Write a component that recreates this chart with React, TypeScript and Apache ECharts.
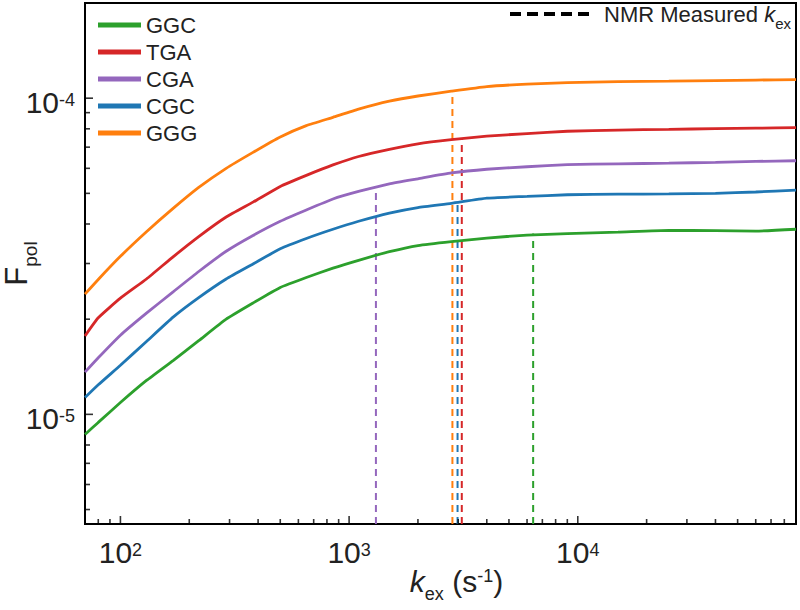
import React, { useEffect, useRef } from 'react';
import * as echarts from 'echarts';

const FONT = '"Liberation Sans", Arial, Helvetica, sans-serif';
const TXT = '#222';

// exchange rates (s^-1) at which the curves were read
const kex = [70, 80, 100, 130, 170, 220, 290, 380, 500, 650, 850, 1100, 1500, 2000, 2800, 4000, 6000, 9000, 15000, 25000, 40000, 60000, 90000];

const ggc = [8.64e-6, 9.43e-6, 1.09e-5, 1.28e-5, 1.48e-5, 1.71e-5, 2.00e-5, 2.25e-5, 2.52e-5, 2.71e-5, 2.90e-5, 3.07e-5, 3.27e-5, 3.42e-5, 3.52e-5, 3.61e-5, 3.69e-5, 3.73e-5, 3.77e-5, 3.82e-5, 3.81e-5, 3.80e-5, 3.85e-5];
const tga = [1.77e-5, 2.02e-5, 2.33e-5, 2.68e-5, 3.15e-5, 3.65e-5, 4.21e-5, 4.69e-5, 5.26e-5, 5.70e-5, 6.15e-5, 6.54e-5, 6.89e-5, 7.17e-5, 7.39e-5, 7.58e-5, 7.73e-5, 7.86e-5, 7.93e-5, 7.97e-5, 8.01e-5, 8.04e-5, 8.07e-5];
const cga = [1.36e-5, 1.51e-5, 1.78e-5, 2.09e-5, 2.44e-5, 2.83e-5, 3.28e-5, 3.68e-5, 4.08e-5, 4.43e-5, 4.80e-5, 5.07e-5, 5.36e-5, 5.56e-5, 5.80e-5, 5.96e-5, 6.07e-5, 6.16e-5, 6.20e-5, 6.23e-5, 6.27e-5, 6.31e-5, 6.34e-5];
const cgc = [1.13e-5, 1.24e-5, 1.43e-5, 1.70e-5, 2.03e-5, 2.34e-5, 2.68e-5, 2.99e-5, 3.34e-5, 3.60e-5, 3.85e-5, 4.08e-5, 4.33e-5, 4.51e-5, 4.65e-5, 4.83e-5, 4.89e-5, 4.95e-5, 4.97e-5, 4.98e-5, 5.00e-5, 5.05e-5, 5.12e-5];
const ggg = [2.40e-5, 2.67e-5, 3.16e-5, 3.78e-5, 4.48e-5, 5.22e-5, 6.00e-5, 6.74e-5, 7.54e-5, 8.19e-5, 8.70e-5, 9.23e-5, 9.78e-5, 1.016e-4, 1.052e-4, 1.088e-4, 1.108e-4, 1.12e-4, 1.128e-4, 1.132e-4, 1.137e-4, 1.141e-4, 1.145e-4];

const seriesNames = ['GGC', 'TGA', 'CGA', 'CGC', 'GGG'];
const seriesValues = [ggc, tga, cga, cgc, ggg];
const seriesColors = ['#2ca02c', '#d62728', '#9467bd', '#1f77b4', '#ff7f0e'];

// NMR measured kex and the F_pol where the dashed marker meets each curve
const nmrKex = [6380, 3110, 1310, 2980, 2830];
const nmrFpol = [3.73e-5, 7.45e-5, 5.27e-5, 4.67e-5, 1.05e-4];
const NMR_LABEL = 'NMR Measured kex';

const X_MIN = 70;
const X_MAX = 90000;
const Y_MIN = 4.5e-6;
const Y_MAX = 2e-4;

const xMajorTicks = [100, 1000, 10000];
const yMajorTicks = [1e-5, 1e-4];
const xMinorTicks = [80, 90, 200, 300, 400, 500, 600, 700, 800, 900, 2000, 3000, 4000, 5000, 6000, 7000, 8000, 9000, 20000, 30000, 40000, 50000, 60000, 70000, 80000];
const yMinorTicks = [5e-6, 6e-6, 7e-6, 8e-6, 2e-5, 3e-5, 4e-5, 5e-5, 6e-5, 7e-5, 8e-5, 9e-5];

const powLabel = (v: number) => {
  const e = Math.log10(v);
  const r = Math.round(e);
  if (Math.abs(e - r) > 1e-6) return '';
  return `{b|10}{s|${r}}`;
};

const tickRich = {
  b: { fontSize: 30, fontFamily: FONT, color: TXT, lineHeight: 32, padding: [9, 0, 0, 0] },
  s: { fontSize: 18, fontFamily: FONT, color: TXT, lineHeight: 18, verticalAlign: 'top', padding: [9, 0, 0, 0] },
};

const tickSeries = (values: number[], axis: 'x' | 'y', len: number) => ({
  type: 'scatter',
  name: axis + len,
  data: values.map((v) => (axis === 'x' ? [v, Y_MIN] : [X_MIN, v])),
  symbol: 'rect',
  symbolSize: axis === 'x' ? [1.6, len] : [len, 1.6],
  symbolOffset: axis === 'x' ? [0, -len / 2] : [len / 2, 0],
  itemStyle: { color: '#000' },
  clip: false,
  silent: true,
  z: 6,
});

export default function App() {
  const ref = useRef<HTMLDivElement>(null);
  useEffect(() => {
    if (!ref.current) return;
    const chart = echarts.init(ref.current, undefined, { renderer: 'svg' });

    const lineSeries: any[] = seriesNames.map((name, i) => ({
      name,
      type: 'line',
      data: kex.map((k, j) => [k, seriesValues[i][j]]),
      showSymbol: false,
      symbol: 'none',
      smooth: 0.15,
      color: seriesColors[i],
      lineStyle: { width: 2.8, color: seriesColors[i] },
      z: 3,
    }));

    const dashSeries: any[] = seriesNames.map((name, i) => ({
      name: name + ' NMR',
      type: 'line',
      data: [[nmrKex[i], Y_MIN], [nmrKex[i], nmrFpol[i]]],
      showSymbol: false,
      symbol: 'none',
      lineStyle: { width: 2, color: seriesColors[i], type: [7, 5] },
      z: 2,
    }));

    const nmrLegendSeries = {
      name: NMR_LABEL,
      type: 'line',
      data: [],
      color: '#000',
      lineStyle: { color: '#000', width: 4, type: 'dashed' },
      showSymbol: false,
    };

    chart.setOption({
      animation: false,
      backgroundColor: '#fff',
      grid: {
        left: 85,
        right: 4,
        top: 3,
        bottom: 86,
        containLabel: false,
        outerBoundsMode: 'none',
        show: true,
        borderColor: '#000',
        borderWidth: 2,
        backgroundColor: 'transparent',
      },
      legend: [
        {
          data: seriesNames.map((n) => ({ name: n, icon: 'rect' })),
          orient: 'vertical',
          left: 98,
          top: 14,
          padding: 0,
          itemWidth: 43,
          itemHeight: 5,
          itemGap: 5,
          selectedMode: false,
          textStyle: { fontSize: 22, fontFamily: FONT, color: TXT, lineHeight: 22 },
        },
        {
          data: [
            {
              name: NMR_LABEL,
              icon: 'path://M0,0h11v4h-11zM17,0h11v4h-11zM34,0h11v4h-11zM51,0h11v4h-11zM68,0h11v4h-11z',
            },
          ],
          left: 510,
          top: -3,
          padding: 0,
          itemWidth: 79,
          itemHeight: 4,
          selectedMode: false,
          formatter: () => '{a|NMR Measured }{k|k}{e|ex}',
          textStyle: {
            padding: [0, 0, 0, 10],
            rich: {
              a: { fontSize: 22, fontFamily: FONT, color: TXT, lineHeight: 24 },
              k: { fontSize: 22, fontFamily: FONT, color: TXT, fontStyle: 'italic', lineHeight: 24 },
              e: { fontSize: 15, fontFamily: FONT, color: TXT, lineHeight: 16, padding: [19, 0, 0, 0] },
            },
          },
        },
      ],
      xAxis: {
        type: 'log',
        logBase: 10,
        min: X_MIN,
        max: X_MAX,
        name: '{k|k}{e|ex}{t| (s}{u|-1}{t|)}',
        nameLocation: 'middle',
        nameGap: 42,
        nameMoveOverlap: false,
        nameTextStyle: {
          padding: [0, 0, 0, 32],
          rich: {
            k: { fontSize: 30, fontFamily: FONT, color: TXT, fontStyle: 'italic', lineHeight: 30 },
            e: { fontSize: 18, fontFamily: FONT, color: TXT, lineHeight: 20, padding: [26, 0, 0, 0] },
            t: { fontSize: 30, fontFamily: FONT, color: TXT, lineHeight: 30 },
            u: { fontSize: 18, fontFamily: FONT, color: TXT, lineHeight: 20, padding: [0, 0, 10, 0] },
          },
        },
        axisLine: { show: true, lineStyle: { color: '#000', width: 2 } },
        axisTick: { show: false },
        axisLabel: { formatter: powLabel, margin: 8, rich: tickRich },
        splitLine: { show: false },
      },
      yAxis: {
        type: 'log',
        logBase: 10,
        min: Y_MIN,
        max: Y_MAX,
        name: '{F|F}{p|pol}',
        nameLocation: 'middle',
        nameRotate: 90,
        nameGap: 53,
        nameMoveOverlap: false,
        nameTextStyle: {
          rich: {
            F: { fontSize: 31, fontFamily: FONT, color: TXT, lineHeight: 31 },
            p: { fontSize: 19, fontFamily: FONT, color: TXT, lineHeight: 20, padding: [28, 0, 0, 0] },
          },
        },
        axisLine: { show: true, lineStyle: { color: '#000', width: 2 } },
        axisTick: { show: false },
        axisLabel: { formatter: powLabel, margin: 10, rich: tickRich },
        splitLine: { show: false },
      },
      series: [
        ...dashSeries,
        ...lineSeries,
        tickSeries(xMajorTicks, 'x', 8),
        tickSeries(xMinorTicks, 'x', 5),
        tickSeries(yMajorTicks, 'y', 8),
        tickSeries(yMinorTicks, 'y', 5),
        nmrLegendSeries,
      ],
    });

    return () => chart.dispose();
  }, []);

  return (
    <div
      ref={ref}
      style={{ position: 'absolute', left: 0, top: 0, width: 800, height: 610, background: '#fff' }}
    />
  );
}
